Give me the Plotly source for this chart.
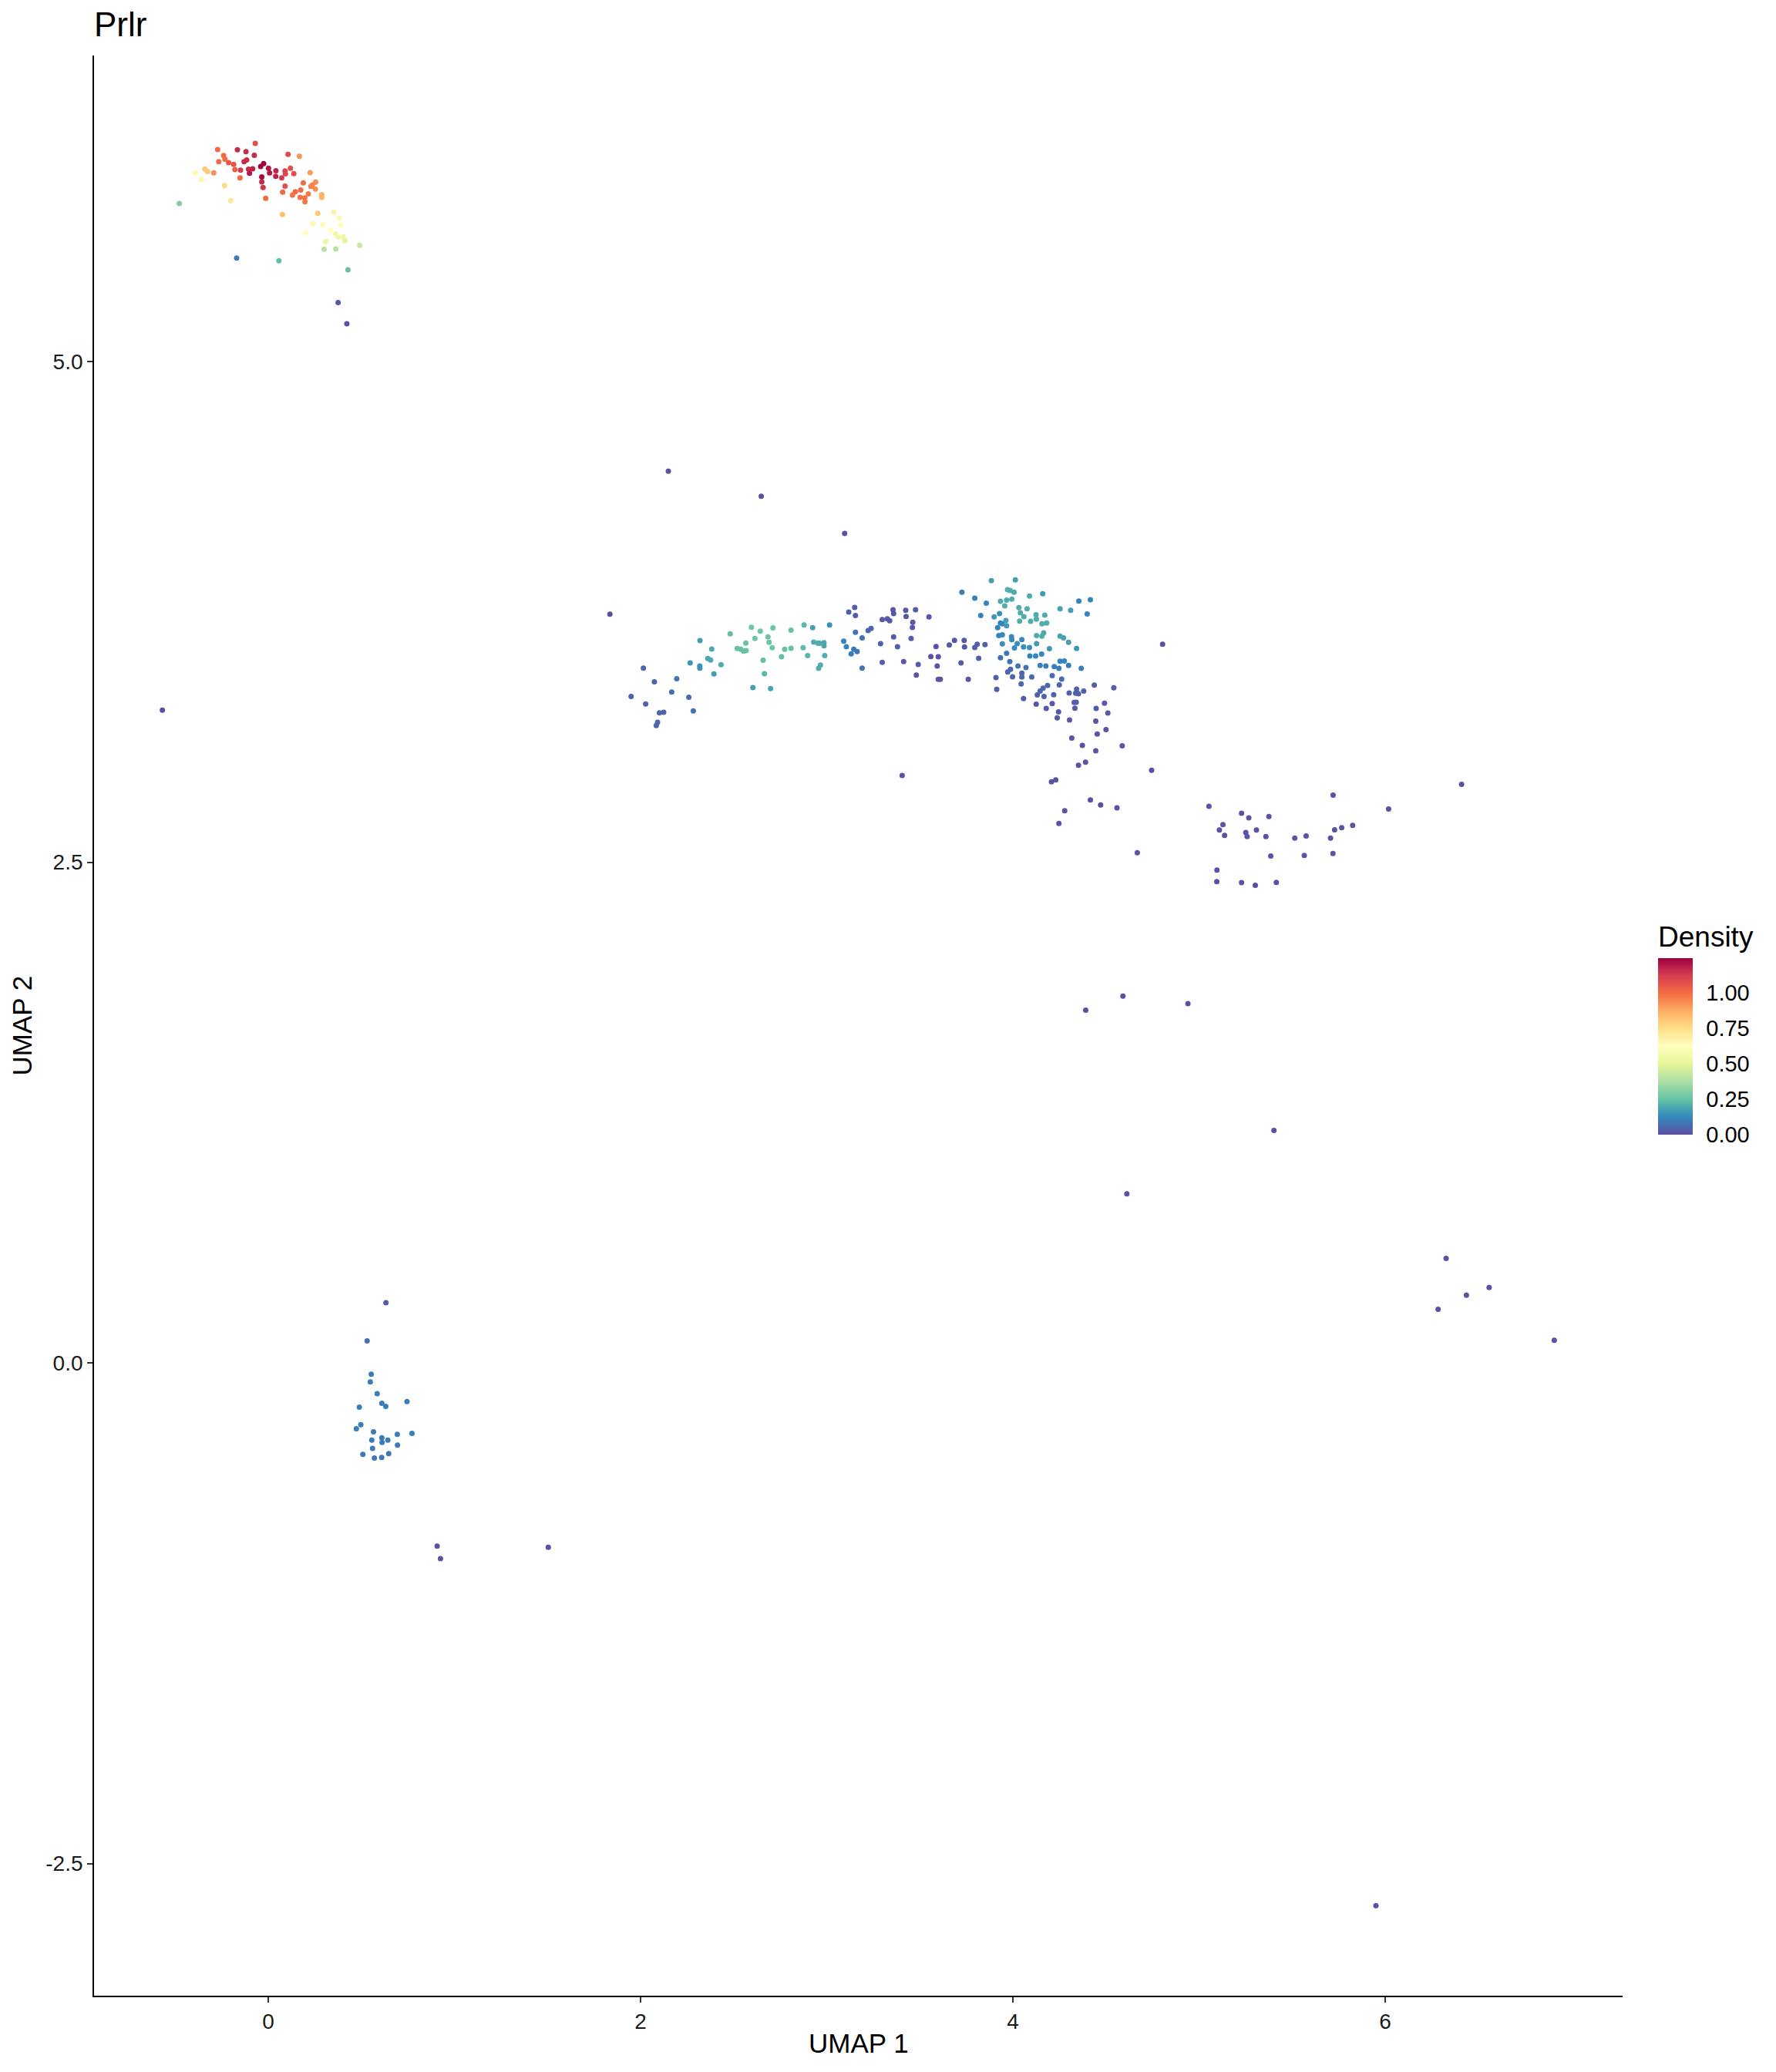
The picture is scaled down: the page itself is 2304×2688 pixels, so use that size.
import plotly.graph_objects as go

# ---------------- data (UMAP coordinates and Prlr density) ----------------
top_x = [-0.070, -0.272, -0.166, -0.120, -0.075, 0.106, 0.167, -0.240, -0.233, -0.266,
         -0.213, -0.186, -0.130, -0.116, -0.025, -0.041, -0.179, -0.149, -0.106, -0.084,
         -0.101, 0.001, 0.007, 0.041, 0.040, 0.072, 0.090, 0.092, 0.119, 0.137,
         -0.035, -0.035, -0.028, -0.152, -0.293, -0.341, -0.326, -0.392, -0.359, -0.235,
         -0.202, -0.014, 0.090, 0.077, 0.130, 0.145, 0.174, 0.188, 0.171, 0.196,
         0.197, 0.215, 0.225, 0.229, 0.237, 0.254, 0.253, 0.287, 0.287, 0.076,
         0.266, 0.353, 0.382, 0.388, 0.239, 0.293, 0.333, 0.200, 0.362, 0.375,
         0.403, 0.411, 0.308, 0.300, 0.363, 0.491, -0.478, -0.170, 0.057, 0.428,
         0.375, 0.422]
top_y = [6.089, 6.058, 6.057, 6.048, 6.030, 6.034, 6.025, 6.029, 6.010, 5.998,
         5.993, 5.984, 5.998, 6.006, 5.988, 5.974, 5.958, 5.955, 5.960, 5.962,
         5.940, 5.965, 5.942, 5.953, 5.925, 5.917, 5.952, 5.937, 5.965, 5.938,
         5.922, 5.897, 5.869, 5.917, 5.942, 5.961, 5.949, 5.942, 5.908, 5.878,
         5.803, 5.815, 5.876, 5.846, 5.831, 5.848, 5.856, 5.892, 5.820, 5.817,
         5.798, 5.837, 5.943, 5.875, 5.881, 5.896, 5.861, 5.833, 5.820, 5.734,
         5.740, 5.747, 5.716, 5.681, 5.689, 5.684, 5.656, 5.643, 5.638, 5.622,
         5.623, 5.603, 5.599, 5.561, 5.562, 5.580, 5.789, 5.517, 5.503, 5.458,
         5.294, 5.189]
top_d = [1.08, 1.00, 1.15, 1.15, 1.15, 1.08, 0.92, 1.00, 1.00, 1.00,
         1.05, 1.05, 1.15, 1.15, 1.24, 1.23, 1.03, 1.12, 1.15, 1.17,
         1.20, 1.20, 1.20, 1.17, 1.17, 1.12, 1.10, 1.10, 1.08, 1.07,
         1.23, 1.15, 1.13, 1.00, 0.93, 0.80, 0.80, 0.65, 0.65, 0.76,
         0.72, 1.00, 1.07, 1.00, 0.98, 1.00, 1.00, 1.00, 0.98, 0.98,
         0.97, 0.97, 0.90, 0.95, 0.95, 0.93, 0.92, 0.85, 0.85, 0.82,
         0.80, 0.67, 0.65, 0.63, 0.66, 0.64, 0.62, 0.63, 0.55, 0.55,
         0.53, 0.50, 0.53, 0.40, 0.40, 0.43, 0.30, 0.10, 0.24, 0.25,
         0.02, 0.00]

mid_x = [1.835, 2.015, 2.074, 1.949, 2.027, 2.101, 2.124, 2.091, 2.084, 2.194,
         2.167, 2.259, 2.283, 2.266, 2.319, 2.318, 2.318, 2.382, 2.361, 2.376,
         2.394, 2.432, 2.481, 2.519, 2.538, 2.553, 2.567, 2.565, 2.595, 2.614,
         2.643, 2.684, 2.690, 2.707, 2.711, 2.658, 2.665, 2.603, 2.698, 2.757,
         2.774, 2.808, 2.808, 2.873, 2.878, 2.897, 2.924, 2.930, 2.952, 2.962,
         2.985, 2.985, 2.956, 2.966, 2.989, 3.015, 3.091, 3.105, 3.118, 3.150,
         3.154, 3.154, 3.145, 3.131, 3.163, 3.190, 3.190, 3.222, 3.238, 3.289,
         3.298, 3.298, 3.325, 3.338, 3.356, 3.359, 3.359, 3.380, 3.413, 3.424,
         3.426, 3.477, 3.462, 3.460, 3.453, 3.491, 3.481, 3.549, 3.587, 3.559,
         3.599, 3.593, 3.599, 3.610, 3.658, 3.686, 3.738, 3.740, 3.721, 3.760,
         3.795, 3.808, 3.850, 3.816, 3.726, 3.795, 3.857, 3.827, 3.884, 4.013,
         3.971, 3.985, 4.006, 3.933, 3.966, 3.994, 3.956, 4.089, 4.160, 4.032,
         4.076, 4.040, 4.059, 4.124, 4.171, 4.126, 3.899, 3.928, 3.962, 3.966,
         4.036, 4.095, 4.156, 4.181, 3.933, 3.943, 3.918, 3.924, 3.943, 3.992,
         3.994, 4.048, 4.023, 4.008, 3.943, 4.057, 4.089, 4.127, 4.156, 4.165,
         4.127, 4.196, 4.154, 4.091, 4.122, 3.966, 3.933, 3.983, 4.027, 4.070,
         3.972, 3.987, 3.998, 4.048, 4.048, 4.101, 4.044, 3.909, 3.913, 4.057,
         4.253, 4.310, 4.354, 4.416, 4.399, 4.253, 4.272, 4.299, 4.342, 4.253,
         4.276, 4.146, 4.177, 4.222, 4.247, 4.299, 4.367, 4.211, 4.262, 4.249,
         4.186, 4.162, 4.146, 4.131, 4.167, 4.219, 4.302, 4.342, 4.337, 4.380,
         4.352, 4.437, 4.542, 4.125, 4.179, 4.211, 4.245, 4.238, 4.304, 4.329,
         4.340, 4.333, 4.447, 4.492, 4.510, 4.445, 4.453, 4.500, 4.316, 4.373,
         4.445, 4.587, 4.352, 4.390, 4.207, 4.230, 4.745, 3.405, 4.416, 4.471,
         4.559, 4.278, 4.247]
mid_y = [3.738, 3.469, 3.401, 3.328, 3.290, 3.246, 3.249, 3.199, 3.182, 3.416,
         3.350, 3.324, 3.255, 3.495, 3.607, 3.480, 3.469, 3.564, 3.517, 3.509,
         3.440, 3.486, 3.640, 3.567, 3.563, 3.554, 3.557, 3.594, 3.673, 3.617,
         3.654, 3.625, 3.598, 3.571, 3.670, 3.508, 3.441, 3.372, 3.367, 3.526,
         3.563, 3.659, 3.568, 3.571, 3.685, 3.532, 3.671, 3.599, 3.594, 3.593,
         3.596, 3.581, 3.468, 3.484, 3.532, 3.685, 3.604, 3.576, 3.749, 3.772,
         3.732, 3.648, 3.563, 3.540, 3.552, 3.620, 3.469, 3.657, 3.667, 3.591,
         3.498, 3.711, 3.715, 3.706, 3.761, 3.741, 3.625, 3.576, 3.502, 3.758,
         3.727, 3.761, 3.698, 3.672, 3.617, 3.487, 3.434, 3.725, 3.577, 3.527,
         3.526, 3.480, 3.413, 3.413, 3.584, 3.608, 3.608, 3.575, 3.495, 3.413,
         3.572, 3.588, 3.586, 3.518, 3.848, 3.818, 3.793, 3.732, 3.906, 3.910,
         3.861, 3.857, 3.848, 3.803, 3.809, 3.813, 3.780, 3.829, 3.840, 3.771,
         3.765, 3.745, 3.726, 3.736, 3.734, 3.713, 3.725, 3.741, 3.707, 3.681,
         3.704, 3.703, 3.690, 3.694, 3.694, 3.690, 3.671, 3.632, 3.635, 3.626,
         3.611, 3.611, 3.591, 3.570, 3.590, 3.575, 3.572, 3.632, 3.629, 3.645,
         3.591, 3.566, 3.539, 3.530, 3.530, 3.543, 3.521, 3.502, 3.480, 3.472,
         3.450, 3.463, 3.426, 3.444, 3.425, 3.425, 3.390, 3.422, 3.363, 3.317,
         3.765, 3.758, 3.804, 3.811, 3.739, 3.629, 3.620, 3.598, 3.567, 3.504,
         3.505, 3.482, 3.480, 3.477, 3.468, 3.482, 3.468, 3.431, 3.414, 3.385,
         3.382, 3.369, 3.354, 3.335, 3.328, 3.336, 3.345, 3.364, 3.344, 3.354,
         3.341, 3.384, 3.371, 3.289, 3.268, 3.292, 3.251, 3.221, 3.210, 3.298,
         3.299, 3.269, 3.268, 3.294, 3.245, 3.204, 3.140, 3.162, 3.120, 3.083,
         3.056, 3.081, 2.984, 2.999, 2.901, 2.911, 2.959, 2.933, 2.811, 2.786,
         2.771, 2.757, 2.693]
mid_d = [0.00, 0.04, 0.05, 0.04, 0.04, 0.05, 0.05, 0.05, 0.05, 0.08,
         0.07, 0.07, 0.07, 0.15, 0.17, 0.15, 0.15, 0.19, 0.19, 0.19,
         0.17, 0.20, 0.24, 0.25, 0.25, 0.25, 0.25, 0.25, 0.26, 0.26,
         0.26, 0.26, 0.26, 0.26, 0.26, 0.24, 0.22, 0.17, 0.18, 0.24,
         0.25, 0.25, 0.25, 0.23, 0.22, 0.22, 0.18, 0.20, 0.20, 0.20,
         0.19, 0.19, 0.20, 0.20, 0.20, 0.14, 0.12, 0.11, 0.04, 0.03,
         0.04, 0.08, 0.10, 0.10, 0.09, 0.07, 0.08, 0.05, 0.05, 0.04,
         0.04, 0.02, 0.02, 0.02, 0.02, 0.02, 0.03, 0.03, 0.02, 0.02,
         0.02, 0.02, 0.02, 0.02, 0.03, 0.02, 0.01, 0.02, 0.01, 0.01,
         0.01, 0.01, 0.01, 0.01, 0.02, 0.02, 0.02, 0.02, 0.02, 0.01,
         0.03, 0.03, 0.04, 0.04, 0.10, 0.11, 0.12, 0.11, 0.17, 0.17,
         0.20, 0.20, 0.20, 0.20, 0.20, 0.20, 0.20, 0.20, 0.16, 0.20,
         0.20, 0.20, 0.20, 0.20, 0.20, 0.20, 0.16, 0.14, 0.17, 0.16,
         0.20, 0.20, 0.20, 0.20, 0.12, 0.12, 0.12, 0.12, 0.13, 0.13,
         0.13, 0.13, 0.14, 0.14, 0.14, 0.14, 0.14, 0.20, 0.20, 0.19,
         0.16, 0.16, 0.12, 0.12, 0.12, 0.09, 0.07, 0.08, 0.08, 0.08,
         0.05, 0.05, 0.05, 0.05, 0.05, 0.06, 0.05, 0.03, 0.03, 0.03,
         0.18, 0.17, 0.12, 0.12, 0.12, 0.18, 0.18, 0.17, 0.15, 0.12,
         0.12, 0.11, 0.10, 0.10, 0.10, 0.10, 0.10, 0.06, 0.06, 0.05,
         0.05, 0.05, 0.05, 0.04, 0.04, 0.04, 0.04, 0.04, 0.04, 0.04,
         0.04, 0.03, 0.03, 0.02, 0.02, 0.02, 0.02, 0.02, 0.02, 0.03,
         0.03, 0.02, 0.02, 0.02, 0.02, 0.01, 0.01, 0.01, 0.01, 0.01,
         0.01, 0.01, 0.01, 0.01, 0.01, 0.01, 0.00, 0.00, 0.00, 0.00,
         0.00, 0.00, 0.00]

right_x = [4.668, 4.591, 5.053, 5.228, 5.267, 5.375, 5.128, 5.109, 5.137, 5.251,
           5.258, 5.308, 5.359, 5.514, 5.575, 5.706, 5.728, 5.766, 5.825, 5.720,
           6.018, 6.410, 5.385, 5.565, 5.719, 5.096, 5.095, 5.228, 5.302, 5.415]
right_y = [2.547, 1.831, 2.779, 2.744, 2.721, 2.728, 2.688, 2.661, 2.634, 2.648,
           2.628, 2.661, 2.628, 2.620, 2.631, 2.620, 2.662, 2.672, 2.684, 2.835,
           2.766, 2.889, 2.531, 2.534, 2.543, 2.461, 2.403, 2.398, 2.385, 2.399]
right_d = [0.00, 0.00, 0.01, 0.01, 0.01, 0.01, 0.01, 0.01, 0.01, 0.01,
           0.01, 0.01, 0.01, 0.01, 0.01, 0.01, 0.01, 0.01, 0.01, 0.00,
           0.00, 0.00, 0.01, 0.01, 0.01, 0.00, 0.00, 0.00, 0.00, 0.00]

low_x = [0.632, 0.531, 0.553, 0.548, 0.585, 0.489, 0.610, 0.631, 0.745, 0.497,
         0.473, 0.565, 0.610, 0.642, 0.611, 0.556, 0.693, 0.772, 0.694, 0.560,
         0.508, 0.647, 0.570, 0.609, 0.907, 0.925, 1.504]
low_y = [0.300, 0.110, -0.057, -0.095, -0.154, -0.221, -0.202, -0.217, -0.193, -0.309,
         -0.329, -0.344, -0.374, -0.386, -0.397, -0.386, -0.357, -0.352, -0.411, -0.427,
         -0.457, -0.453, -0.475, -0.472, -0.915, -0.978, -0.921]
low_d = [0.03, 0.07, 0.10, 0.10, 0.10, 0.10, 0.10, 0.10, 0.10, 0.10,
         0.10, 0.10, 0.10, 0.10, 0.10, 0.10, 0.10, 0.10, 0.10, 0.10,
         0.09, 0.09, 0.09, 0.09, 0.00, 0.00, 0.00]

iso_x = [-0.569, 2.149, 2.648, 3.096, 4.804, 4.391, 4.940, 5.402, 4.612,
         6.327, 6.558, 6.436, 6.284, 6.908, 5.950]
iso_y = [3.259, 4.452, 4.327, 4.142, 3.588, 1.761, 1.794, 1.161, 0.844,
         0.522, 0.376, 0.338, 0.268, 0.113, -2.711]
iso_d = [0.00, 0.00, 0.00, 0.00, 0.00, 0.00, 0.00, 0.00, 0.00,
         0.00, 0.00, 0.00, 0.00, 0.00, 0.00]

x_ticks = [0, 2, 4, 6]
y_ticks = [-2.5, 0.0, 2.5, 5.0]
y_tick_labels = ["-2.5", "0.0", "2.5", "5.0"]
cbar_ticks = [0.0, 0.25, 0.5, 0.75, 1.0]
cbar_labels = ["0.00", "0.25", "0.50", "0.75", "1.00"]

spectral_rev = ["#5E4FA2", "#3288BD", "#66C2A5", "#ABDDA4", "#E6F598", "#FFFFBF",
                "#FEE08B", "#FDAE61", "#F46D43", "#D53E4F", "#9E0142"]

# ---------------- assemble ----------------
xs = top_x + mid_x + right_x + low_x + iso_x
ys = top_y + mid_y + right_y + low_y + iso_y
ds = top_d + mid_d + right_d + low_d + iso_d
order = sorted(range(len(ds)), key=lambda i: ds[i])
xs = [xs[i] for i in order]
ys = [ys[i] for i in order]
ds = [ds[i] for i in order]

colorscale = [[i / (len(spectral_rev) - 1), c] for i, c in enumerate(spectral_rev)]

FONT = "Liberation Sans, Arial, Helvetica, sans-serif"

# page body has an 8px margin, so the figure is 8px smaller on each axis
W, H = 2296, 2680
ML, MR, MT, MB = 114, 199, 64, 99

fig = go.Figure()
fig.add_trace(go.Scatter(
    x=xs, y=ys, mode="markers",
    marker=dict(
        size=7, color=ds, colorscale=colorscale, cmin=0, cmax=1.24,
        line=dict(width=0),
        colorbar=dict(
            title=dict(text="Density", side="top", font=dict(size=37, color="black", family=FONT)),
            x=1.0232, xanchor="left", y=0.4984, yanchor="middle",
            len=275, lenmode="pixels", thickness=45, thicknessmode="pixels",
            outlinewidth=0, xpad=0, ypad=0,
            tickvals=cbar_ticks, ticktext=cbar_labels,
            ticks="outside", ticklen=12, tickwidth=1, tickcolor="rgba(255,255,255,0)",
            tickfont=dict(size=29, color="black", family=FONT),
        ),
    ),
    showlegend=False, hoverinfo="skip",
))

fig.update_layout(
    width=W, height=H,
    margin=dict(l=ML, r=MR, t=MT, b=MB, pad=0),
    paper_bgcolor="white", plot_bgcolor="white",
    font=dict(family=FONT, color="black"),
    title=dict(text="Prlr", x=ML / W, xanchor="left", xref="container",
               y=1 - 24 / H, yanchor="middle", yref="container",
               font=dict(size=44, color="black", family=FONT)),
    xaxis=dict(range=[-0.936, 7.275], showgrid=False, zeroline=False,
               showline=True, linecolor="black", linewidth=1.8,
               ticks="outside", ticklen=7, tickwidth=1.5, tickcolor="#333333",
               tickvals=x_ticks, ticktext=[str(v) for v in x_ticks],
               tickfont=dict(size=28, color="#1a1a1a", family=FONT)),
    yaxis=dict(range=[-3.160, 6.528], showgrid=False, zeroline=False,
               showline=True, linecolor="black", linewidth=1.8,
               ticks="outside", ticklen=7, tickwidth=1.5, tickcolor="#333333",
               tickvals=y_ticks, ticktext=y_tick_labels,
               tickfont=dict(size=28, color="#1a1a1a", family=FONT)),
    annotations=[
        dict(text="UMAP 1", xref="paper", yref="paper", x=0.5, y=(2589 - 2650) / 2517,
             xanchor="center", yanchor="middle", showarrow=False,
             font=dict(size=35, color="black", family=FONT)),
        dict(text="UMAP 2", xref="paper", yref="paper", x=(28 - 122) / 1983, y=0.5,
             xanchor="center", yanchor="middle", textangle=-90, showarrow=False,
             font=dict(size=35, color="black", family=FONT)),
    ],
)

fig.write_html("out.html")
